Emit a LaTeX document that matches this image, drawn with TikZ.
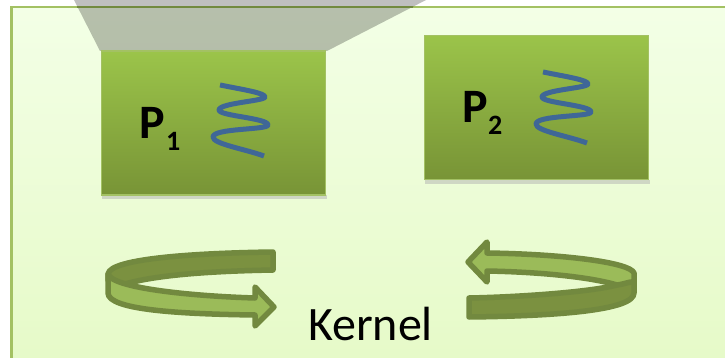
\documentclass[tikz,border=0pt]{standalone}
\usepackage{fontspec}
\setmainfont{Carlito}
\definecolor{edgeg}{HTML}{A3C163}
\definecolor{ringedge}{HTML}{72893F}
\definecolor{ringdark}{HTML}{7B9140}
\definecolor{ringlight}{HTML}{9BBB59}
\definecolor{springb}{HTML}{3F6797}
\definecolor{boxtop}{HTML}{9BC44A}
\definecolor{boxbot}{HTML}{789436}
\definecolor{paneltop}{RGB}{243,255,230}
\definecolor{panelbot}{RGB}{230,250,200}
\tikzset{
  procbox/.style={draw=edgeg,line width=1.6pt,top color=boxtop,bottom color=boxbot,minimum width=224pt,minimum height=144pt,inner sep=0pt},
  boxshadow/.style={fill=black!30,opacity=.5,draw=none},
  springline/.style={draw=springb,line width=5pt,line join=round},
  ringd/.style={draw=ringedge,fill=ringdark,line width=5.5pt,line join=round},
  ringl/.style={draw=ringedge,fill=ringlight,line width=5.5pt,line join=round},
  plabel/.style={font=\fontsize{48}{48}\selectfont\bfseries,inner sep=0pt,anchor=base west},
  psub/.style={font=\fontsize{28}{28}\selectfont\bfseries,inner sep=0pt,anchor=base west},
}
\begin{document}
\begin{tikzpicture}[x=1pt,y=-1pt]
\useasboundingbox (0,0) rectangle (725,358);
\fill[white] (0,0) rectangle (725,358);
% panel
\path[draw=edgeg,line width=2.4pt,top color=paneltop,bottom color=panelbot]
  (11.5,7) rectangle (740,362);
% funnel
\fill[black,opacity=.25] (74,0) -- (100,51) -- (327,51) -- (426,0) -- cycle;
\draw[ringedge,line width=1.4pt] (77,7) -- (413,7);
% process boxes
\fill[boxshadow] (102,195) rectangle (327,199);
\fill[boxshadow] (425,180) rectangle (650,184);
\node[procbox] (p1) at (213.5,123) {};
\node[procbox] (p2) at (536.5,107.5) {};
\node[plabel] (p1t) at (139,139) {P};
\node[psub] (p1s) at (166,151) {1};
\node[plabel] (p2t) at (462,123) {P};
\node[psub] (p2s) at (488,135) {2};
% springs
\draw[springline] (220,85) .. controls (245,90) and (265,93) .. (265,97)
  .. controls (265,101) and (219,103) .. (219,110)
  .. controls (219,116) and (268,118) .. (268,125)
  .. controls (268,130) and (213,128) .. (213,137)
  .. controls (213,144) and (245,149) .. (264,156);
\draw[springline] (543,72) .. controls (568,77) and (588,80) .. (588,84)
  .. controls (588,88) and (542,90) .. (542,97)
  .. controls (542,103) and (591,105) .. (591,112)
  .. controls (591,117) and (536,115) .. (536,124)
  .. controls (536,131) and (568,136) .. (587,143);
% left ring
\path[ringd] (273,252) .. controls (200,253) and (110,258) .. (108,274)
  -- (108,280) -- (125,284) .. controls (160,274) and (220,271) .. (273,270) -- cycle;
\path[ringl] (108,274) .. controls (112,288) and (190,296) .. (255,298)
  -- (255,287) -- (274,307) -- (255,326) -- (255,315)
  .. controls (180,314) and (108,310) .. (108,293) -- cycle;
% right ring
\path[ringl] (634,273) .. controls (630,262) and (560,254) .. (487,253)
  -- (487,242) -- (468,262) -- (487,282) -- (487,271)
  .. controls (540,272) and (590,277) .. (617,285) -- (634,288) -- cycle;
\path[ringd] (634,283) .. controls (634,280) and (625,284) .. (617,285)
  .. controls (590,292) and (520,297) .. (469,298) -- (469,317)
  .. controls (560,316) and (634,310) .. (634,293) -- cycle;
% label
\node[font=\fontsize{48}{48}\selectfont,inner sep=0pt,anchor=base] (kernel) at (370.5,340) {Kernel};
\end{tikzpicture}
\end{document}
